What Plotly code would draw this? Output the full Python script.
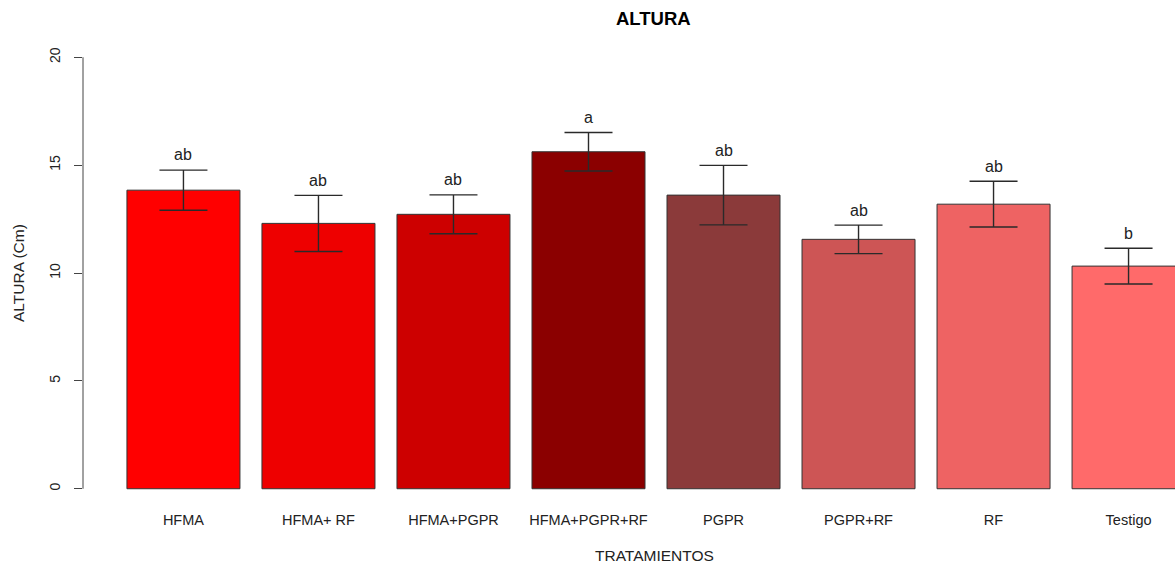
import plotly.graph_objects as go

# Treatment means of plant height (cm) with standard errors and Tukey letters
tratamientos = ["HFMA", "HFMA+ RF", "HFMA+PGPR", "HFMA+PGPR+RF",
                "PGPR", "PGPR+RF", "RF", "Testigo"]
altura_media = [13.84, 12.30, 12.72, 15.62, 13.61, 11.56, 13.19, 10.32]
error_est = [0.93, 1.30, 0.90, 0.89, 1.38, 0.66, 1.06, 0.83]
letras = ["ab", "ab", "ab", "a", "ab", "ab", "ab", "b"]

colores = ["#FF0000", "#EE0000", "#CD0000", "#8B0000",
           "#8B3A3A", "#CD5555", "#EE6363", "#FF6A6A"]
y_ticks = [0, 5, 10, 15, 20]

FONT = "Liberation Sans, Arial, sans-serif"
pos = list(range(len(tratamientos)))

fig = go.Figure()
fig.add_trace(go.Bar(
    x=pos,
    y=altura_media,
    width=0.837,
    marker=dict(color=colores, line=dict(color="#333333", width=1)),
    error_y=dict(type="data", array=error_est, visible=True,
                 color="#2a2a2a", thickness=1.4, width=24),
    hoverinfo="skip",
))

# significance letters above each error bar
for xi, m, e, let in zip(pos, altura_media, error_est, letras):
    fig.add_annotation(x=xi, y=m + e + 0.7, text=let, showarrow=False,
                       xanchor="center", yanchor="middle",
                       font=dict(family=FONT, size=16, color="#222222"))

# y axis line drawn only over the 0-20 span
fig.add_shape(type="line", xref="paper", yref="y", x0=0, x1=0, y0=0, y1=20,
              line=dict(color="#444444", width=1))

fig.add_annotation(xref="paper", yref="y", x=-0.0595, y=10,
                   text="ALTURA (Cm)", textangle=-90, showarrow=False,
                   xanchor="center", yanchor="middle",
                   font=dict(family=FONT, size=15.5, color="#222222"))
fig.add_annotation(xref="paper", yref="paper", x=0.5238, y=-0.1066,
                   text="TRATAMIENTOS", showarrow=False,
                   xanchor="center", yanchor="middle",
                   font=dict(family=FONT, size=15.5, color="#222222"))
fig.add_annotation(xref="paper", yref="paper", x=0.522, y=1.0465,
                   text="<b>ALTURA</b>", showarrow=False,
                   xanchor="center", yanchor="middle",
                   font=dict(family=FONT, size=18.5, color="#000000"))

fig.update_layout(
    width=1175, height=564,
    margin=dict(l=83, r=0, t=40, b=58),
    paper_bgcolor="white", plot_bgcolor="white",
    showlegend=False,
    xaxis=dict(range=[-0.744, 7.344], tickvals=pos, ticktext=tratamientos,
               showline=False, showgrid=False, zeroline=False, ticks="",
               ticklabelstandoff=3,
               tickfont=dict(family=FONT, size=14.5, color="#222222")),
    yaxis=dict(range=[-0.8, 20.8], tickvals=y_ticks,
               ticktext=[str(v) for v in y_ticks],
               showline=False, showgrid=False, zeroline=False,
               ticks="outside", ticklen=8, tickcolor="#444444", tickwidth=1,
               tickangle=-90, ticklabelstandoff=8,
               tickfont=dict(family=FONT, size=14, color="#222222")),
)

fig.write_html("out.html")
